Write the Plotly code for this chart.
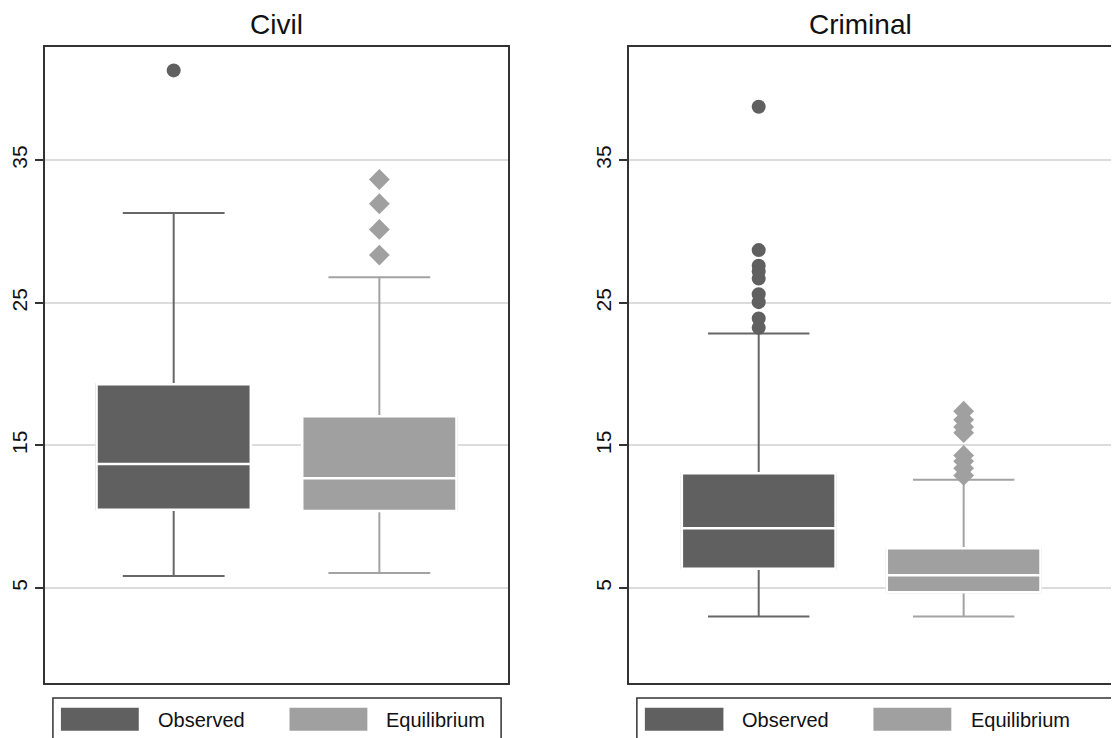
import plotly.graph_objects as go

# ---------------- data ----------------
categories = ["Observed", "Equilibrium"]
panels = ["Civil", "Criminal"]

civil_q1 = [10.5, 10.4]
civil_median = [13.7, 12.7]
civil_q3 = [19.3, 17.05]
civil_low = [5.85, 6.05]
civil_high = [31.3, 26.8]
civil_out_obs = [41.3]
civil_out_eq = [33.65, 31.95, 30.15, 28.35]

crim_q1 = [6.35, 4.7]
crim_median = [9.2, 5.9]
crim_q3 = [13.05, 7.8]
crim_low = [3.0, 3.0]
crim_high = [22.85, 12.6]
crim_out_obs = [38.75, 28.7, 27.6, 27.2, 26.7, 25.6, 25.05, 23.9, 23.25]
crim_out_eq = [17.4, 16.8, 16.3, 15.9, 14.3, 13.9, 13.4, 12.9]

y_ticks = [5, 15, 25, 35]

# ---------------- style ----------------
OFF = 8                      # page body margin offset
W, H = 1119 - OFF, 738 - OFF
dark = "#606060"
light = "#a0a0a0"
dark_line = "#676767"
light_line = "#a3a3a3"
frame = "#333333"
font_family = "Liberation Sans, Arial, Helvetica, sans-serif"


def px(v):
    return (v - OFF) / W


def py(v):
    return 1 - (v - OFF) / H


fills = [dark, light]
wlines = [dark_line, light_line]
symbols = ["circle", "diamond"]
sizes = [14, 16]

fig = go.Figure()

panel_data = [
    (civil_q1, civil_median, civil_q3, civil_low, civil_high, [civil_out_obs, civil_out_eq]),
    (crim_q1, crim_median, crim_q3, crim_low, crim_high, [crim_out_obs, crim_out_eq]),
]

for p, (q1, med, q3, lo, hi, outs) in enumerate(panel_data):
    xa = "x" if p == 0 else "x2"
    ya = "y" if p == 0 else "y2"
    for i, cat in enumerate(categories):
        fig.add_trace(go.Box(
            x=[cat], q1=[q1[i]], median=[med[i]], q3=[q3[i]],
            lowerfence=[lo[i]], upperfence=[hi[i]],
            width=0.75, whiskerwidth=0.66,
            fillcolor=fills[i], line=dict(color=wlines[i], width=2),
            boxpoints=False, showlegend=False, hoverinfo="skip",
            xaxis=xa, yaxis=ya,
        ))
        fig.add_trace(go.Box(
            x=[cat], q1=[q1[i]], median=[med[i]], q3=[q3[i]],
            lowerfence=[q1[i]], upperfence=[q3[i]],
            width=0.75, whiskerwidth=0.66,
            fillcolor=fills[i], line=dict(color="white", width=2.5),
            boxpoints=False, showlegend=False, hoverinfo="skip",
            xaxis=xa, yaxis=ya,
        ))
    for i, cat in enumerate(categories):
        fig.add_trace(go.Scatter(
            x=[cat] * len(outs[i]), y=outs[i], mode="markers",
            marker=dict(symbol=symbols[i], size=sizes[i], color=fills[i],
                        line=dict(width=0)),
            showlegend=False, hoverinfo="skip",
            xaxis=xa, yaxis=ya,
        ))

ydom = [py(682.5), py(47)]
yrange = [-1.62, 42.94]

common_x = dict(type="category", categoryorder="array", categoryarray=categories,
                showticklabels=False, ticks="", showgrid=False, zeroline=False,
                showline=True, linecolor=frame, linewidth=2, fixedrange=True)
common_y = dict(range=yrange, domain=ydom, tickmode="array", tickvals=y_ticks,
                ticktext=[str(v) for v in y_ticks], tickangle=-90,
                ticks="outside", ticklen=8, tickwidth=1.5, tickcolor=frame,
                showgrid=True, gridcolor="#dcdcdc", gridwidth=1.5, zeroline=False,
                showline=True, linecolor=frame, linewidth=2,
                tickfont=dict(family=font_family, size=21, color="#111111"),
                fixedrange=True)

fig.update_layout(
    width=W, height=H,
    margin=dict(l=0, r=0, t=0, b=0),
    paper_bgcolor="white", plot_bgcolor="white",
    boxmode="overlay",
    showlegend=False,
    xaxis=dict(common_x, domain=[px(43), px(507)], range=[-0.626, 1.626], mirror=True),
    yaxis=dict(common_y, anchor="x", mirror=True),
    xaxis2=dict(common_x, domain=[px(628.3), 1.0], range=[-0.632, 1.758], mirror=True, anchor="y2"),
    yaxis2=dict(common_y, anchor="x2", mirror=False),
)

for txt, cx in [("Civil", 275), ("Criminal", 860)]:
    fig.add_annotation(text=txt, xref="paper", yref="paper",
                       x=px(cx), y=py(24), xanchor="center", yanchor="middle",
                       showarrow=False,
                       font=dict(family=font_family, size=28, color="#111111"))

legend_specs = [
    dict(box=(51, 500), sw=[(59, 137), (288, 366)], tx=[154, 383]),
    dict(box=(636, 1117), sw=[(644, 722.7), (873, 951)], tx=[739, 969]),
]
for spec in legend_specs:
    bx0, bx1 = spec["box"]
    fig.add_shape(type="rect", xref="paper", yref="paper",
                  x0=px(bx0), x1=px(bx1), y0=py(770), y1=py(698),
                  line=dict(color=frame, width=1.5), fillcolor="rgba(0,0,0,0)")
    for i, cat in enumerate(categories):
        sx0, sx1 = spec["sw"][i]
        fig.add_shape(type="rect", xref="paper", yref="paper",
                      x0=px(sx0), x1=px(sx1), y0=py(730.7), y1=py(707.7),
                      line=dict(width=0), fillcolor=fills[i])
        fig.add_annotation(text=cat, xref="paper", yref="paper",
                           x=px(spec["tx"][i]), y=py(719.5),
                           xanchor="left", yanchor="middle", showarrow=False,
                           font=dict(family=font_family, size=20, color="#111111"))

fig.write_html("out.html")
